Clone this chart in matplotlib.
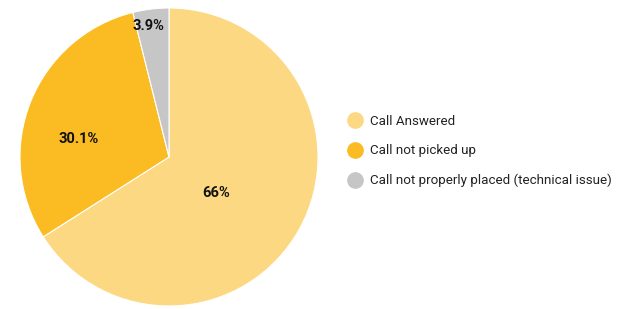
import matplotlib.pyplot as plt
import numpy as np
from matplotlib.lines import Line2D

labels = ['Call Answered', 'Call not picked up', 'Call not properly placed (technical issue)']
values = [66.0, 30.1, 3.9]
pct_labels = ['66%', '30.1%', '3.9%']
colors = ['#FDD883', '#FBBB22', '#C6C6C6']

plt.rcParams['font.family'] = ['Roboto', 'DejaVu Sans']

fig = plt.figure(figsize=(6.17, 3.09), dpi=100)
ax = fig.add_axes([20 / 617, 3 / 309, 298 / 617, 298 / 309])

wedges, _ = ax.pie(values, colors=colors, startangle=90, counterclock=False,
                   wedgeprops=dict(edgecolor='white', linewidth=0.8))

# label placement (angle in degrees, distance as fraction of radius)
label_pos = [(-37.5, 0.40), (168.8, 0.62), (99.0, 0.89)]
for txt, (ang, r) in zip(pct_labels, label_pos):
    a = np.deg2rad(ang)
    ax.text(r * np.cos(a), r * np.sin(a), txt, ha='center', va='center',
            fontsize=10.5, fontweight='bold', color='#111111')
ax.set_xlim(-1, 1)
ax.set_ylim(-1, 1)
ax.set_aspect('equal')

handles = [Line2D([], [], marker='o', linestyle='', markersize=11,
                  markerfacecolor=c, markeredgecolor=c) for c in colors]
fig.legend(handles, labels, loc='center left', bbox_to_anchor=(335 / 617, 1 - 151 / 309),
           frameon=False, fontsize=9.6, labelspacing=1.25, handletextpad=0.5,
           handlelength=1.2, labelcolor='#222222')

plt.savefig('out.png', dpi=100)
